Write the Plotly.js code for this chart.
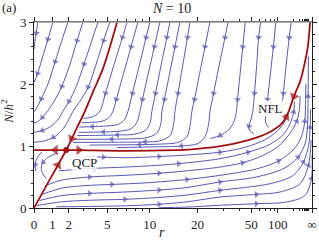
<!DOCTYPE html>
<html><head><meta charset="utf-8">
<script src="https://cdn.plot.ly/plotly-3.0.1.min.js"></script>
<style>html,body{margin:0;padding:0;background:#fff}#chart{width:319px;height:240px}</style>
</head><body><div id="chart"></div>
<script>
// x axis is the compactified coordinate u = r/(r+R_SCALE); r = infinity sits at u = 1
const R_SCALE = 14;
const rTickValues = [0, 1, 2, 5, 10, 20, 50, 100, Infinity];
const rTickLabels = ['0', '1', '2', '5', '10', '20', '50', '100', '\u221E'];
const rMinorValues = [3, 4, 6, 7, 8, 9, 30, 40, 60, 70, 80, 90, 200, 300, 400, 500, 600, 700, 800, 900, 1000];
const yTickValues = [0, 1, 2, 3];

// fixed points (u, N/h^2)
const qcpPoint = [0.116, 0.935];
const nflPoint = [0.917, 1.565];

// streamlines: [u, N/h^2, arrow-here flag]
const upperLeftLines = [
  [[0.014,3],[0.008,2.82,1],[0.003,2.68],[0,2.56]],
  [[0.068,3],[0.05,2.72,1],[0.03,2.42],[0.013,2.17,1],[0,2.02]],
  [[0.122,3],[0.1,2.7],[0.076,2.36,1],[0.05,2.0],[0.026,1.76,1],[0.008,1.6],[0,1.55]],
  [[0.176,3],[0.155,2.7,1],[0.128,2.3],[0.1,1.96,1],[0.072,1.72],[0.05,1.57],[0.03,1.46,1],[0.012,1.39],[0,1.37]],
  [[0.23,3],[0.208,2.7],[0.18,2.32,1],[0.152,1.96],[0.126,1.72,1],[0.104,1.56],[0.085,1.42],[0.055,1.3],[0.03,1.25,1],[0,1.22]],
  [[0.273,3],[0.25,2.7,1],[0.222,2.3],[0.195,1.95,1],[0.165,1.72],[0.14,1.56],[0.122,1.4],[0.1,1.25],[0.07,1.14,1],[0.035,1.08],[0,1.06]]
];
const upperRightLines = [
  [[0.335,3],[0.318,2.75,1],[0.287,2.3],[0.257,1.85,1],[0.237,1.56],[0.215,1.48],[0.19,1.45],[0.178,1.445]],
  [[0.374,3],[0.349,2.6,1],[0.321,2.15],[0.296,1.75,1],[0.284,1.56],[0.27,1.46],[0.245,1.4],[0.2,1.38],[0.172,1.375]],
  [[0.417,3],[0.403,2.75,1],[0.379,2.3],[0.354,1.85,1],[0.338,1.56],[0.325,1.42],[0.3,1.345],[0.25,1.32],[0.21,1.312,1],[0.163,1.305]],
  [[0.453,3],[0.433,2.6,1],[0.41,2.15],[0.39,1.75,1],[0.381,1.56],[0.372,1.4],[0.35,1.28],[0.3,1.235],[0.25,1.227,1],[0.16,1.22]],
  [[0.489,3],[0.478,2.75,1],[0.457,2.3],[0.437,1.85,1],[0.424,1.56],[0.418,1.38],[0.4,1.25],[0.36,1.19],[0.3,1.178,1],[0.2,1.17],[0.155,1.168]],
  [[0.525,3],[0.507,2.6,1],[0.487,2.15],[0.469,1.75,1],[0.46,1.56],[0.456,1.35],[0.44,1.2],[0.4,1.13],[0.34,1.115],[0.28,1.11,1],[0.148,1.108]],
  [[0.561,3],[0.552,2.75,1],[0.535,2.3],[0.518,1.85,1],[0.507,1.56],[0.502,1.35],[0.49,1.17],[0.45,1.08],[0.4,1.066,1],[0.25,1.06],[0.14,1.058]],
  [[0.633,3],[0.615,2.6,1],[0.595,2.15],[0.577,1.75,1],[0.568,1.56],[0.562,1.35],[0.55,1.15],[0.52,1.06],[0.45,1.03],[0.38,1.022,1],[0.2,1.015]],
  [[0.698,3],[0.687,2.75,1],[0.666,2.3],[0.646,1.85,1],[0.633,1.56],[0.628,1.35],[0.615,1.15],[0.59,1.04],[0.53,1.0,1],[0.42,0.985],[0.3,0.975]],
  [[0.76,3],[0.751,2.6,1],[0.741,2.15],[0.732,1.75,1],[0.728,1.56],[0.72,1.4],[0.7,1.26],[0.67,1.17,1],[0.635,1.12]],
  [[0.815,3],[0.808,2.75,1],[0.801,2.3],[0.793,1.85,1],[0.787,1.56],[0.78,1.42],[0.773,1.32,1],[0.778,1.24],[0.79,1.2]],
  [[0.87,3],[0.861,2.6,1],[0.85,2.15],[0.84,1.75,1],[0.836,1.56],[0.832,1.45],[0.835,1.36],[0.845,1.3]],
  [[0.925,3],[0.918,2.75,1],[0.907,2.3],[0.897,1.85,1],[0.891,1.62]]
];
const lowerFanLines = [
  [[0.15,0.84],[0.25,0.82,1],[0.327,0.81],[0.45,0.83,1],[0.55,0.855],[0.669,0.9,1],[0.76,0.98],[0.83,1.1],[0.875,1.24],[0.9,1.38],[0.912,1.5]],
  [[0.09,0.6],[0.15,0.62],[0.22,0.64,1],[0.327,0.66],[0.45,0.69],[0.52,0.715,1],[0.669,0.795],[0.77,0.9,1],[0.85,1.03],[0.9,1.2],[0.925,1.4],[0.934,1.55,1],[0.937,1.72]],
  [[0.04,0.36],[0.1,0.45],[0.2,0.5,1],[0.327,0.527],[0.45,0.56,1],[0.55,0.6],[0.669,0.66],[0.75,0.73,1],[0.82,0.84],[0.88,1.0],[0.92,1.2],[0.945,1.4,1],[0.955,1.6],[0.957,1.8]],
  [[0.03,0.22],[0.1,0.32],[0.18,0.36],[0.28,0.38,1],[0.4,0.405],[0.55,0.46,1],[0.669,0.527],[0.8,0.63],[0.88,0.76,1],[0.935,0.95],[0.962,1.15],[0.974,1.4,1],[0.977,1.75],[0.978,2.0]],
  [[0.02,0.12],[0.1,0.2],[0.2,0.235,1],[0.327,0.258],[0.45,0.29,1],[0.55,0.33],[0.669,0.42,1],[0.8,0.5],[0.9,0.64],[0.95,0.82,1],[0.976,1.05],[0.984,1.35],[0.986,1.8,1],[0.987,2.45]],
  [[0.01,0.04],[0.1,0.1],[0.2,0.125],[0.327,0.14,1],[0.45,0.17],[0.55,0.21],[0.669,0.285,1],[0.849,0.392],[0.933,0.527],[0.969,0.742,1],[0.988,1.011],[0.993,1.3,1],[0.995,1.6]],
  [[0.08,0.02],[0.2,0.025],[0.327,0.035],[0.45,0.06,1],[0.55,0.1],[0.669,0.177],[0.8,0.22,1],[0.885,0.258],[0.957,0.392],[0.987,0.688,1],[0.997,1.1]],
  [[0.45,0.005],[0.55,0.015],[0.669,0.044],[0.8,0.07,1],[0.909,0.097],[0.975,0.204],[0.998,0.473,1],[1.0,0.85]]
];
const lowerLeftLines = [
  [[0.085,0.885],[0.055,0.83],[0.033,0.74,1],[0.026,0.64],[0.032,0.55],[0.045,0.47]],
  [[0.028,0.9],[0.01,0.8],[0.004,0.7,1],[0.006,0.6]]
];
// red separatrices
const redLines = [
  [[0,0],[0.058,0.47],[0.086,0.69,1],[0.116,0.935]],
  [[0.299,3.0],[0.249,2.26],[0.213,1.88],[0.177,1.5],[0.155,1.3],[0.136,1.12,1],[0.116,0.935]],
  [[0.116,0.935],[0.077,0.935,1],[0,0.935]],
  [[0.116,0.935],[0.161,0.934,1],[0.327,0.922],[0.45,0.928],[0.555,0.942],[0.62,0.968],[0.687,1.01],[0.789,1.12],[0.849,1.226],[0.891,1.36],[0.907,1.47,1],[0.917,1.565]],
  [[0.993,3.0],[0.985,2.6],[0.972,2.3],[0.958,2.05],[0.946,1.92],[0.935,1.8,1],[0.917,1.565]]
];

const BLUE = '#5858b4';
const RED = '#a10f0f';
const SERIF = '"Liberation Serif", "DejaVu Serif", serif';
const toU = r => (r === Infinity ? 1 : r / (r + R_SCALE));

function streamTrace(pts, color, width, arrowSize) {
  return {
    type: 'scatter', mode: 'lines+markers',
    x: pts.map(p => p[0]), y: pts.map(p => p[1]),
    line: {color: color, width: width, shape: 'spline', smoothing: 0.9},
    marker: {symbol: 'triangle-up', angleref: 'previous',
             size: pts.map(p => (p[2] ? arrowSize : 0)), color: color, line: {width: 0}},
    hoverinfo: 'skip', showlegend: false
  };
}

const traces = [];
[upperLeftLines, upperRightLines, lowerFanLines, lowerLeftLines].forEach(group =>
  group.forEach(l => traces.push(streamTrace(l, BLUE, 1, 6))));
redLines.forEach(l => traces.push(streamTrace(l, RED, 1.8, 9)));
traces.push({type: 'scatter', mode: 'markers', x: [qcpPoint[0]], y: [qcpPoint[1]],
  marker: {color: RED, size: 6}, hoverinfo: 'skip', showlegend: false});

const axisCommon = {
  showline: true, linecolor: '#222', linewidth: 1, mirror: 'ticks',
  ticks: 'outside', ticklen: 4, tickcolor: '#222', tickwidth: 1,
  showgrid: false, zeroline: false, fixedrange: true,
  tickfont: {family: SERIF, size: 13, color: '#222'}
};

const layout = {
  width: 319, height: 240,
  margin: {l: 34, r: 7, t: 22, b: 32, pad: 0},
  paper_bgcolor: '#fff', plot_bgcolor: '#fff',
  showlegend: false,
  font: {family: SERIF, color: '#222'},
  xaxis: Object.assign({}, axisCommon, {
    range: [0, 1], tickmode: 'array',
    tickvals: rTickValues.map(toU), ticktext: rTickLabels,
    minor: {tickmode: 'array', tickvals: rMinorValues.map(toU), ticks: 'outside', ticklen: 2, tickcolor: '#222'}
  }),
  yaxis: Object.assign({}, axisCommon, {
    range: [0, 3], tickmode: 'array', tickvals: yTickValues,
    minor: {dtick: 0.2, tick0: 0, ticks: 'outside', ticklen: 2, tickcolor: '#222'}
  }),
  shapes: [
    {type: 'line', xref: 'paper', yref: 'paper', x0: 0, x1: 1, y0: 1, y1: 1,
     line: {color: '#9a9a9a', width: 1.6}, layer: 'above'}
  ],
  annotations: [
    {text: '<i>N</i> = 10', xref: 'paper', yref: 'paper', x: 0.496, y: 1.072,
     xanchor: 'center', yanchor: 'middle', showarrow: false, font: {family: SERIF, size: 14, color: '#222'}},
    {text: '(a)', xref: 'paper', yref: 'paper', x: -0.09, y: 1.08,
     xanchor: 'center', yanchor: 'middle', showarrow: false, font: {family: SERIF, size: 13, color: '#222'}},
    {text: '<i>r</i>', xref: 'paper', yref: 'paper', x: 0.46, y: -0.134,
     xanchor: 'center', yanchor: 'middle', showarrow: false, font: {family: SERIF, size: 14, color: '#222'}},
    {text: '<i>N</i>/<i>h</i><sup>2</sup>', xref: 'paper', yref: 'paper', x: -0.095, y: 0.52, textangle: -90,
     xanchor: 'center', yanchor: 'middle', showarrow: false, font: {family: SERIF, size: 13, color: '#222'}},
    {text: 'QCP', x: 0.132, y: 0.735, xanchor: 'left', yanchor: 'middle', showarrow: false,
     bgcolor: 'rgba(255,255,255,0.85)', borderpad: 0, font: {family: SERIF, size: 13, color: '#222'}},
    {text: 'NFL', x: 0.802, y: 1.605, xanchor: 'left', yanchor: 'middle', showarrow: false,
     bgcolor: 'rgba(255,255,255,0.85)', borderpad: 0, font: {family: SERIF, size: 13, color: '#222'}}
  ]
};

Plotly.newPlot('chart', traces, layout, {staticPlot: true, displayModeBar: false});
</script></body></html>
